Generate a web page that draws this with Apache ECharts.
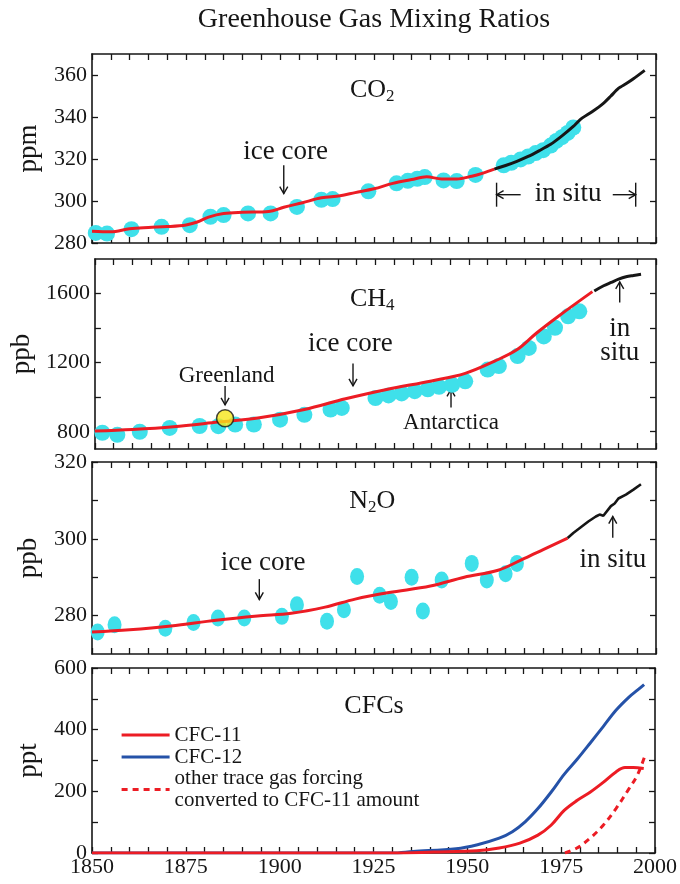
<!DOCTYPE html>
<html lang="en">
<head>
  <meta charset="utf-8">
  <title>Greenhouse Gas Mixing Ratios</title>
  <style>html, body { margin: 0; padding: 0; background: #fff; }</style>
</head>
<body>
  <div id="main" style="width: 680px; height: 884px;"></div>
  <script src="https://cdn.jsdelivr.net/npm/echarts@6/dist/echarts.min.js"></script>
  <script>
    // ---- data ----
    // shared time axis
    var yearLabels = [1850, 1875, 1900, 1925, 1950, 1975, 2000];

    // CO2 (ppm)
    var co2Labels = [280, 300, 320, 340, 360];
    var co2IceCore = [[1851, 284.8], [1854, 284.5], [1860.5, 286.6], [1868.5, 287.7], [1876, 288.5],
      [1881.5, 292.5], [1885, 293.3], [1891.5, 294.1], [1897.5, 294.1], [1904.5, 297.2], [1911, 300.6],
      [1914, 300.9], [1923.5, 304.6], [1931, 308.4], [1934, 309.6], [1936.5, 310.6], [1938.5, 311.4],
      [1943.5, 309.8], [1947, 309.5], [1952, 312.4], [1959.5, 317], [1961.5, 318.2], [1964, 319.8],
      [1966, 321.2], [1968, 322.8], [1970, 324.2], [1972, 326.4], [1973.5, 328.6], [1975, 330.4],
      [1976.5, 332.4], [1978, 335]];
    var co2Fit = [[1850, 285.6], [1855, 285.3], [1860, 286.8], [1865, 287.4], [1870, 287.8], [1875, 288.6],
      [1878, 290], [1881, 292.3], [1885, 294], [1890, 294.6], [1897, 295], [1901, 297], [1906, 299.2],
      [1911, 301.5], [1916, 302.5], [1920, 304], [1925, 305.8], [1930, 308.4], [1935, 310.2], [1939, 311.5],
      [1943, 310.5], [1947, 310.5], [1951, 311.8], [1954, 313.3], [1957, 315.2]];
    var co2InSitu = [[1957, 315.2], [1960, 316.9], [1963, 318.9], [1966, 321.2], [1969, 324], [1972, 327],
      [1975, 331], [1978, 335.5], [1980, 339], [1983, 342.5], [1986, 346.5], [1988, 350], [1990, 353.6],
      [1992, 355.8], [1994, 358.2], [1997, 362.2]];

    // CH4 (ppb)
    var ch4Labels = [800, 1200, 1600];
    var ch4Ticks = [800, 1000, 1200, 1400, 1600];
    var ch4IceCore = [[1852, 794], [1856, 782], [1862, 800], [1870, 822], [1878, 833], [1883, 832],
      [1887.5, 842], [1892.5, 842], [1899.5, 870], [1906, 898], [1913, 928], [1916, 938], [1925, 995],
      [1928.5, 1010], [1932, 1022], [1935.5, 1035], [1939, 1046], [1942, 1060], [1945.5, 1072],
      [1949, 1092], [1955, 1160], [1958, 1180], [1963, 1238], [1966, 1285], [1970, 1352], [1973, 1402],
      [1976.5, 1468], [1979.5, 1497]];
    var ch4Greenland = [[1884.8, 878]];
    var ch4Fit = [[1850, 804], [1860, 813], [1871, 829], [1883, 856], [1894, 881], [1906, 929], [1917, 991],
      [1928, 1045], [1940, 1094], [1949, 1138], [1957, 1210], [1963, 1277], [1968, 1370], [1974, 1470],
      [1983, 1611]];
    var ch4InSitu = [[1983.5, 1615], [1986, 1645], [1988, 1664], [1990, 1683], [1992, 1697], [1994, 1705],
      [1996, 1712]];

    // N2O (ppb)
    var n2oLabels = [280, 300, 320];
    var n2oTicks = [280, 290, 300, 310, 320];
    var n2oIceCore = [[1851.5, 275.7], [1856, 277.6], [1869.5, 276.7], [1877, 278.2], [1883.5, 279.4],
      [1890.5, 279.4], [1900.5, 279.8], [1904.5, 282.8], [1912.5, 278.5], [1917, 281.5], [1920.5, 290.2],
      [1926.5, 285.3], [1929.5, 283.7], [1935, 290], [1938, 281.2], [1943, 289.3], [1951, 293.6],
      [1955, 289.3], [1960, 290.9], [1963, 293.6]];
    var n2oFit = [[1850, 275.7], [1860, 276.3], [1871, 277.3], [1883, 278.8], [1894, 279.9], [1903, 280.6],
      [1912, 282.2], [1920, 284.3], [1929, 286], [1940, 287.7], [1949, 290], [1958, 291.8], [1965, 294.9],
      [1970, 297.2], [1976.5, 300.2]];
    var n2oInSitu = [[1976.5, 300.2], [1978, 301.5], [1980, 303], [1982, 304.5], [1984, 305.8], [1985, 306.3],
      [1986, 306], [1988, 308.5], [1989, 309.2], [1990, 310.5], [1992, 311.5], [1994, 312.8], [1996, 314.2]];

    // CFCs (ppt)
    var cfcLabels = [0, 200, 400, 600];
    var cfcTicks = [0, 100, 200, 300, 400, 500, 600];
    var cfc11 = [[1850, 0], [1930, 0], [1941, 3], [1952.5, 7], [1958.5, 16], [1964, 32], [1968.8, 58],
      [1972.3, 90], [1975.8, 138], [1979.2, 170], [1982.7, 197], [1986.2, 229], [1989.6, 263], [1992, 277],
      [1994.2, 277], [1997, 274]];
    var cfc12 = [[1850, 0], [1930, 0], [1935.5, 5], [1947, 14], [1952.7, 27], [1958.5, 48], [1962, 69],
      [1965.4, 101], [1968.8, 144], [1972.3, 197], [1975.8, 255], [1979.2, 303], [1982.7, 356],
      [1986.2, 410], [1989.6, 463], [1993, 505], [1995.4, 529], [1997.1, 546]];
    var otherForcing = [[1976, 0], [1979.2, 16], [1982.7, 48], [1986.2, 90], [1989.6, 144], [1993, 207],
      [1995.4, 255], [1997.5, 322]];

    // ---- styling ----
    var SERIF = '"Liberation Serif", "Times New Roman", serif';
    var ink = '#161616';
    var red = '#ec1c24';
    var cyan = '#3fe0ea';
    var blue = '#2552a8';

    var myChart = echarts.init(document.getElementById('main'));

    var panels = [
      { top: 54, height: 189, min: 280, max: 370, labels: co2Labels, ticks: co2Labels, name: 'ppm' },
      { top: 259, height: 190, min: 700, max: 1800, labels: ch4Labels, ticks: ch4Ticks, name: 'ppb' },
      { top: 462, height: 192, min: 270, max: 320, labels: n2oLabels, ticks: n2oTicks, name: 'ppb' },
      { top: 668, height: 185, min: 0, max: 600, labels: cfcLabels, ticks: cfcTicks, name: 'ppt' }
    ];

    var plain = function (v) { return String(v); };
    var axisLine = { show: true, onZero: false, lineStyle: { color: ink, width: 1.6 } };
    var tick = { show: true, inside: true, length: 6, lineStyle: { color: ink, width: 1.3 } };

    var grid = [], xAxis = [], yAxis = [];
    panels.forEach(function (p, i) {
      grid.push({ left: 92, width: 564, top: p.top, height: p.height });
      ['bottom', 'top'].forEach(function (pos) {
        xAxis.push({
          type: 'value', gridIndex: i, position: pos, min: 1850, max: 2000, interval: 5,
          axisLine: axisLine, axisTick: tick, splitLine: { show: false },
          axisLabel: {
            show: i === 3 && pos === 'bottom', customValues: yearLabels, formatter: plain, margin: 3,
            fontFamily: SERIF, fontSize: 22, color: ink
          }
        });
      });
      ['left', 'right'].forEach(function (pos) {
        yAxis.push({
          type: 'value', gridIndex: i, position: pos, min: p.min, max: p.max,
          name: pos === 'left' ? p.name : '', nameLocation: 'middle', nameGap: 50,
          nameTextStyle: { fontFamily: SERIF, fontSize: 27, color: ink },
          axisLine: axisLine, splitLine: { show: false },
          axisTick: Object.assign({ customValues: p.ticks }, tick),
          axisLabel: {
            show: pos === 'left', customValues: p.labels, formatter: plain, margin: 5,
            fontFamily: SERIF, fontSize: 22, color: ink
          }
        });
      });
    });

    function dots(g, data, extra) {
      return Object.assign({
        type: 'scatter', xAxisIndex: 2 * g, yAxisIndex: 2 * g, data: data, symbolSize: 15,
        itemStyle: { color: cyan, opacity: 1 }, silent: true, z: 2
      }, extra || {});
    }
    function curve(g, name, data, color, extra) {
      return Object.assign({
        type: 'line', name: name, xAxisIndex: 2 * g, yAxisIndex: 2 * g, data: data, symbol: 'none',
        smooth: 0.35, lineStyle: { color: color, width: 3 }, itemStyle: { color: color }, z: 3
      }, extra || {});
    }

    var otherName = 'other trace gas forcing\nconverted to CFC-11 amount';

    var chartOption = {
      animation: false,
      backgroundColor: '#fff',
      grid: grid,
      xAxis: xAxis,
      yAxis: yAxis,
      legend: {
        orient: 'vertical', left: 120, top: 724, padding: 0, itemGap: 0,
        itemWidth: 48, itemHeight: 12,
        itemStyle: { opacity: 0, color: 'rgba(0,0,0,0)', borderWidth: 0 },
        lineStyle: { width: 3.2 },
        textStyle: { fontFamily: SERIF, fontSize: 21, color: ink, lineHeight: 22 },
        data: ['CFC-11', 'CFC-12', { name: otherName, textStyle: { padding: [0, 0, -22, 0] } }]
      },
      series: [
        dots(0, co2IceCore, { symbolSize: 16 }),
        curve(0, 'co2 fit', co2Fit, red),
        curve(0, 'co2 in situ', co2InSitu, ink, { smooth: 0.2, lineStyle: { color: ink, width: 3 } }),

        dots(1, ch4IceCore, { symbolSize: 16 }),
        curve(1, 'ch4 fit', ch4Fit, red),
        curve(1, 'ch4 in situ', ch4InSitu, ink),
        dots(1, ch4Greenland, {
          symbolSize: 17, z: 5,
          itemStyle: { color: '#f6e61a', borderColor: ink, borderWidth: 1.5 }
        }),

        dots(2, n2oIceCore, { symbolSize: [14, 17] }),
        curve(2, 'n2o fit', n2oFit, red),
        curve(2, 'n2o in situ', n2oInSitu, ink, { smooth: false, lineStyle: { color: ink, width: 2.6 } }),

        curve(3, 'CFC-12', cfc12, blue),
        curve(3, 'CFC-11', cfc11, red),
        curve(3, otherName, otherForcing, red, { lineStyle: { color: red, width: 3, type: [6, 5] } })
      ]
    };
    myChart.setOption(chartOption);

    // ---- annotations, anchored in data coordinates ----
    var annoTexts = [
      [0, 1901.5, 323.5, 'ice core', 27],
      [0, 1976.6, 303.2, 'in situ', 27],
      [1, 1885.2, 1125, 'Greenland', 23],
      [1, 1918.3, 1310, 'ice core', 27],
      [1, 1945.2, 850, 'Antarctica', 23],
      [1, 1990.3, 1395, 'in', 27],
      [1, 1990.3, 1255, 'situ', 27],
      [2, 1895.5, 293.6, 'ice core', 27],
      [2, 1988.5, 294.5, 'in situ', 27]
    ];
    var vArrows = [
      [0, 1901, 317, 303.5],
      [1, 1884.8, 1065, 955],
      [1, 1919, 1195, 1065],
      [1, 1945.2, 940, 1045],
      [1, 1990.3, 1548, 1668],
      [2, 1894.5, 289.5, 284.2],
      [2, 1988.5, 300.3, 305.8]
    ];
    // horizontal arrows: [grid, fromYear, toYear, value]
    var hArrows = [
      [0, 1964, 1957.6, 303],
      [0, 1988.5, 1994.6, 303]
    ];

    function px(g, x, y) {
      return myChart.convertToPixel({ xAxisIndex: 2 * g, yAxisIndex: 2 * g }, [x, y]);
    }
    var stroke = { stroke: ink, lineWidth: 1.4, fill: null };
    var graphics = [];

    function arrow(a, b, bar) {
      var dx = b[0] - a[0], dy = b[1] - a[1];
      var len = Math.sqrt(dx * dx + dy * dy), ux = dx / len, uy = dy / len;
      graphics.push({ type: 'polyline', shape: { points: [a, b] }, style: stroke });
      graphics.push({
        type: 'polyline', style: stroke, shape: {
          points: [[b[0] - ux * 7 - uy * 4, b[1] - uy * 7 + ux * 4], b, [b[0] - ux * 7 + uy * 4, b[1] - uy * 7 - ux * 4]]
        }
      });
      if (bar) {
        graphics.push({ type: 'polyline', style: stroke, shape: { points: [[b[0], b[1] - 12], [b[0], b[1] + 12]] } });
      }
    }

    annoTexts.forEach(function (t) {
      var p = px(t[0], t[1], t[2]);
      graphics.push({
        type: 'text', x: p[0], y: p[1],
        style: { text: t[3], fontFamily: SERIF, fontSize: t[4], fill: ink, align: 'center', verticalAlign: 'middle' }
      });
    });
    vArrows.forEach(function (a) { arrow(px(a[0], a[1], a[2]), px(a[0], a[1], a[3]), false); });
    hArrows.forEach(function (a) { arrow(px(a[0], a[1], a[3]), px(a[0], a[2], a[3]), true); });

    function label(x, y, text, size, align) {
      graphics.push({
        type: 'text', x: x, y: y,
        style: { text: text, fontFamily: SERIF, fontSize: size, fill: ink, align: align, verticalAlign: 'middle' }
      });
    }
    // title and gas names (subscripts set as separate smaller text)
    label(374, 20, 'Greenhouse Gas Mixing Ratios', 28, 'center');
    label(386, 90, 'CO', 26, 'right'); label(386, 97, '2', 17, 'left');
    label(386, 299, 'CH', 26, 'right'); label(386, 306, '4', 17, 'left');
    label(368, 501, 'N', 26, 'right'); label(368, 508, '2', 17, 'left'); label(376.5, 501, 'O', 26, 'left');
    label(374, 706, 'CFCs', 26, 'center');

    myChart.setOption({ graphic: graphics });
  </script>
</body>
</html>
